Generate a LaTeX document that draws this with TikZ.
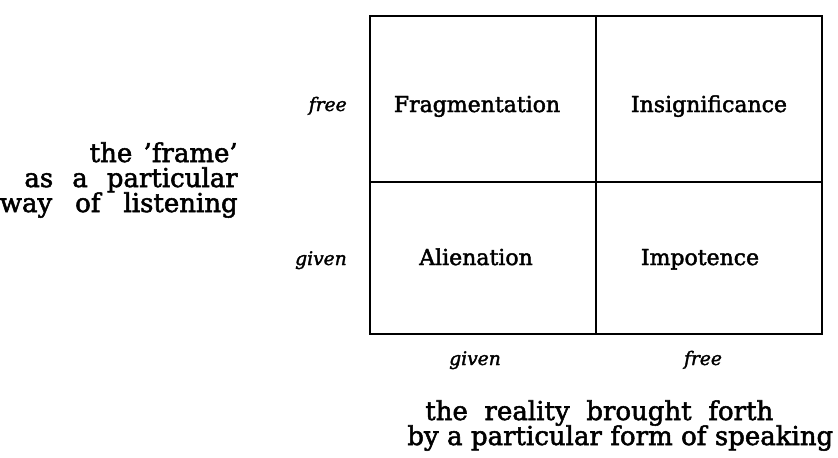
\documentclass[tikz,border=0pt]{standalone}
\usepackage{fontspec}
\setmainfont{DejaVu Serif}[FakeBold=2]
\newcommand{\spreadline}[2]{\makebox[#1][s]{#2}}
\begin{document}
\begin{tikzpicture}[x=0.75pt,y=-0.75pt,
  cell/.style={font=\fontsize{16.5}{19}\selectfont, inner sep=0pt, anchor=base},
  tag/.style={font=\fontsize{14}{16}\selectfont\itshape, inner sep=0pt},
  axis/.style={font=\fontsize{19.5}{18}\selectfont, inner sep=0pt},
  grid/.style={draw=black, line width=0.8pt}]
\useasboundingbox (0,0) rectangle (838,457);
% the 2x2 table
\coordinate (tl) at (370,16);
\coordinate (br) at (822,334);
\coordinate (tm) at (596,16);
\coordinate (bm) at (596,334);
\coordinate (ml) at (370,182);
\coordinate (mr) at (822,182);
\draw[grid] (tl) rectangle (br);
\draw[grid] (tm) -- (bm);
\draw[grid] (ml) -- (mr);
% cell labels
\node[cell] (frag) at (477,112) {Fragmentation};
\node[cell] (insig) at (709,112) {Insignificance};
\node[cell] (alien) at (476,265) {Alienation};
\node[cell] (impot) at (700,265) {Impotence};
% row and column tags
\node[tag, anchor=base east] (rfree) at (347,111) {free};
\node[tag, anchor=base east] (rgiven) at (347,265) {given};
\node[tag, anchor=base] (cgiven) at (475,365) {given};
\node[tag, anchor=base] (cfree) at (703,365) {free};
% caption of the rows
\node[axis, anchor=base east] (rowsa) at (238,162) {\spreadline{111pt}{the 'frame'}};
\node[axis, anchor=base east] (rowsb) at (238,187) {\spreadline{160pt}{as a particular}};
\node[axis, anchor=base east] (rowsc) at (238,212) {\spreadline{178.5pt}{way of listening}};
% caption of the columns
\node[axis, anchor=base west] (colsa) at (425,420) {\spreadline{261pt}{the reality brought forth}};
\node[axis, anchor=base west] (colsb) at (407,445) {\spreadline{319.5pt}{by a particular form of speaking}};
\end{tikzpicture}
\end{document}
